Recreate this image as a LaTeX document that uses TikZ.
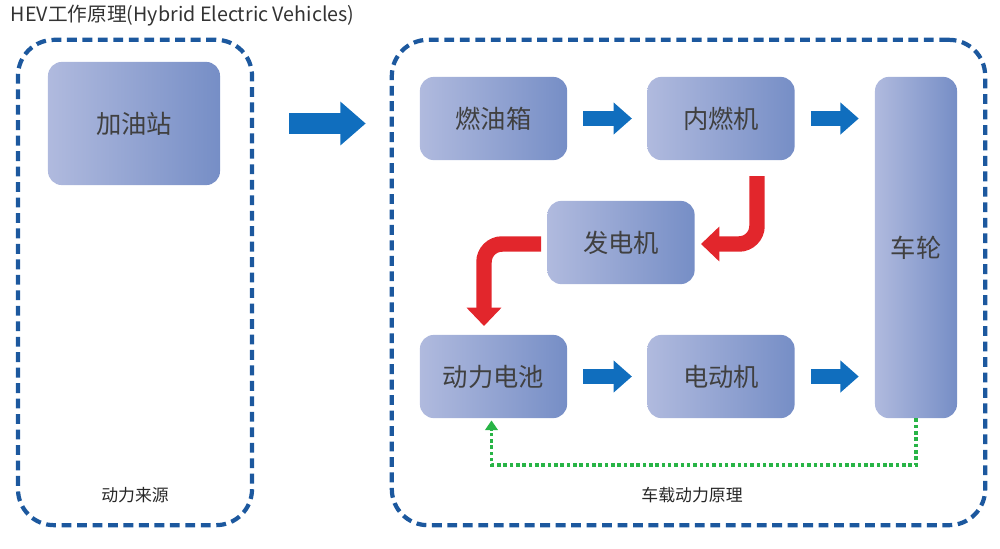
\documentclass[tikz,border=0pt]{standalone}
\usepackage{fontspec}
\setmainfont{Noto Sans CJK SC}
\usetikzlibrary{arrows.meta,positioning}
\definecolor{frameblue}{RGB}{28,88,158}
\definecolor{boxlight}{RGB}{176,186,222}
\definecolor{boxdark}{RGB}{118,142,198}
\definecolor{arrowblue}{RGB}{16,110,190}
\definecolor{arrowred}{RGB}{226,38,44}
\definecolor{dotgreen}{RGB}{40,180,70}
\tikzset{frm/.append style={draw=frameblue,line width=3pt,dash pattern=on 7pt off 4pt,rounded corners=0.9cm,minimum height=12.13cm}}
\tikzset{bx/.append style={rounded corners=0.35cm,left color=boxlight,right color=boxdark,text=black!75,font=\fontsize{18}{20}\selectfont,minimum width=3.68cm,minimum height=2.08cm}}
\tikzset{barrow/.append style={draw=arrowblue,line width=10.6pt,-{Triangle[length=13pt,width=22pt]}}}
\tikzset{rarrow/.append style={draw=arrowred,line width=11pt,rounded corners=0.45cm,-{Triangle[length=13pt,width=24pt]}}}
\tikzset{lbl/.append style={font=\fontsize{12}{14}\selectfont,text=black!85}}
\begin{document}
\begin{tikzpicture}[x=0.025cm,y=-0.025cm]
                \useasboundingbox (0,0) rectangle (1000,548);
                % frames
                \node[frm,minimum width=5.85cm] (src) at (135,282.5) {};
                \node[frm,minimum width=14.83cm] (car) at (688.5,282.5) {};
                \node[anchor=west,font=\fontsize{14}{16}\selectfont,text=black!80] (title) at (6,16) {HEV工作原理(Hybrid Electric Vehicles)};
                \node[lbl] (srclbl) at (135,495) {动力来源};
                \node[lbl] (carlbl) at (692,495) {车载动力原理};
                % boxes
                \node[bx,minimum width=4.3cm,minimum height=3.08cm] (station) at (134,123.5) {加油站};
                \node[bx] (tank) at (493.5,118.5) {燃油箱};
                \node[bx] (engine) at (721,118.5) {内燃机};
                \node[bx] (gen) at (621,242.5) {发电机};
                \node[bx] (battery) at (493.5,376.5) {动力电池};
                \node[bx] (motor) at (721,376.5) {电动机};
                \node[bx,minimum width=2.05cm,minimum height=8.53cm] (wheel) at (916,247.5) {车轮};
                % blue arrows
                \draw[barrow,line width=15.6pt,-{Triangle[length=18pt,width=30pt]},shorten <=0.88cm,shorten >=0.6cm] (src.east|-station) -- (car.west|-station);
                \draw[barrow,shorten <=0.4cm,shorten >=0.38cm] (tank) -- (engine);
                \draw[barrow,shorten <=0.4cm,shorten >=0.4cm] (engine) -- (engine-|wheel.west);
                \draw[barrow,shorten <=0.4cm,shorten >=0.38cm] (battery) -- (motor);
                \draw[barrow,shorten <=0.4cm,shorten >=0.4cm] (motor) -- (motor-|wheel.west);
                % red arrows
                \coordinate (r1) at (757,176);
                \coordinate (r2) at (701,244);
                \coordinate (r3) at (541,244);
                \coordinate (r4) at (484,326);
                \draw[rarrow] (r1) |- (r2);
                \draw[rarrow] (r3) -| (r4);
                % green return
                \coordinate (g1) at (916,465);
                \draw[draw=dotgreen,line width=2.5pt,dash pattern=on 2.5pt off 2pt,-{Triangle[length=7pt,width=9pt]}] (wheel.south) -- (g1) -| ([xshift=-0.05cm,yshift=-0.05cm]battery.south);
\end{tikzpicture}
\end{document}
